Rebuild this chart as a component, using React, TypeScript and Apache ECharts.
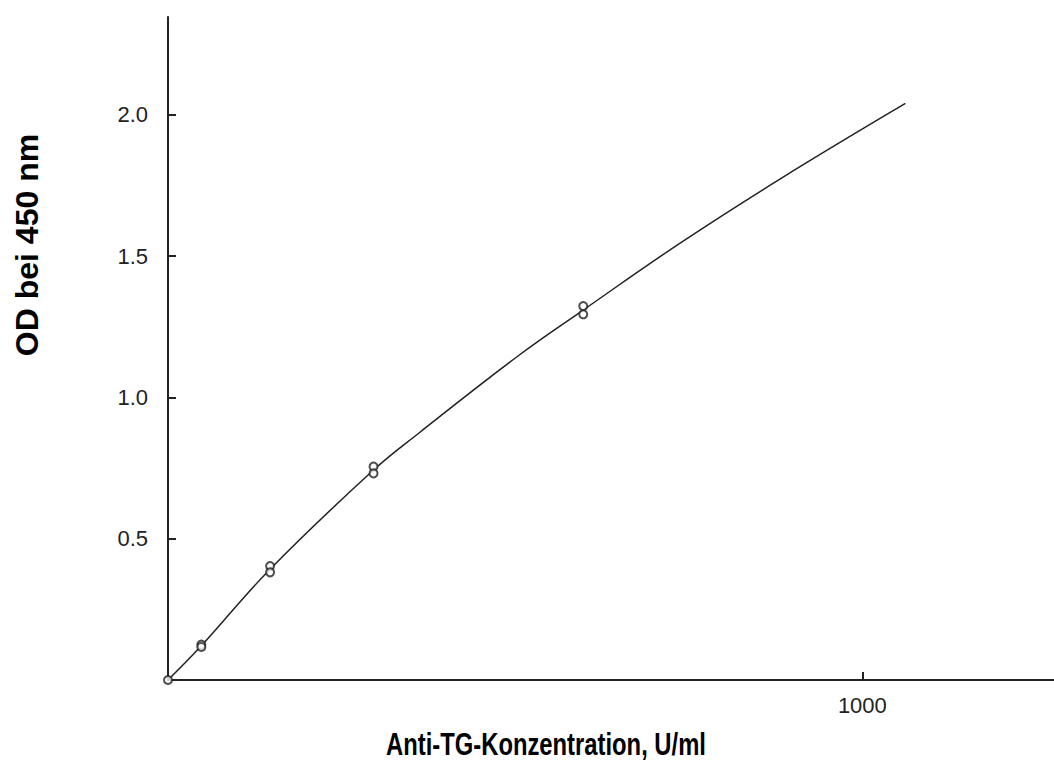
import React, { useEffect, useRef } from "react";
import * as echarts from "echarts";

// Fitted standard curve
const curveX = [0, 48, 147, 296, 362, 506, 598, 737, 883, 1062];
const curveY = [0, 0.121, 0.392, 0.743, 0.875, 1.15, 1.309, 1.545, 1.775, 2.04];
// Measured standards (duplicates)
const pointX = [0, 48, 48, 147, 147, 296, 296, 598, 598];
const pointY = [0, 0.125, 0.117, 0.403, 0.381, 0.755, 0.731, 1.323, 1.294];
// Tick labels
const yTicks = ["0.5", "1.0", "1.5", "2.0"];
const xTicks = ["1000"];

const FONT = '"Liberation Sans", Arial, sans-serif';

export default function App() {
  const ref = useRef<HTMLDivElement>(null);
  useEffect(() => {
    if (!ref.current) return;
    const chart = echarts.init(ref.current, null, { renderer: "svg" });
    chart.setOption({
      animation: false,
      backgroundColor: "#fff",
      grid: { left: 168, top: 17, right: 0, bottom: 80, containLabel: false },
      xAxis: {
        type: "value",
        min: 0,
        max: 1276,
        interval: 1000,
        axisLine: { show: true, lineStyle: { color: "#222", width: 2 } },
        axisTick: { show: true, inside: true, length: 8, lineStyle: { color: "#222", width: 2 } },
        splitLine: { show: false },
        axisLabel: {
          showMaxLabel: false,
          showMinLabel: false,
          margin: 14,
          fontSize: 22,
          color: "#222",
          fontFamily: FONT,
          formatter: (v: number) => (xTicks.includes(String(v)) ? String(v) : ""),
        },
      },
      yAxis: {
        type: "value",
        min: 0,
        max: 2.346,
        interval: 0.5,
        axisLine: { show: true, lineStyle: { color: "#222", width: 2 } },
        axisTick: { show: true, inside: true, length: 8, lineStyle: { color: "#222", width: 2 } },
        splitLine: { show: false },
        axisLabel: {
          showMaxLabel: false,
          showMinLabel: false,
          margin: 20,
          fontSize: 22,
          color: "#222",
          fontFamily: FONT,
          formatter: (v: number) => {
            const s = v.toFixed(1);
            return yTicks.includes(s) ? s : "";
          },
        },
      },
      series: [
        {
          type: "line",
          data: curveX.map((x, i) => [x, curveY[i]]),
          smooth: 0.4,
          showSymbol: false,
          lineStyle: { color: "#222", width: 1.5 },
          z: 2,
        },
        {
          type: "scatter",
          data: pointX.map((x, i) => [x, pointY[i]]),
          symbol: "emptyCircle",
          symbolSize: 8,
          itemStyle: { color: "#222", borderColor: "#222", borderWidth: 1.4 },
          z: 3,
        },
      ],
      graphic: [
        {
          type: "text",
          x: 27,
          y: 245,
          rotation: Math.PI / 2,
          style: {
            text: "OD bei 450 nm",
            font: `bold 32px ${FONT}`,
            fill: "#000",
            align: "center",
            verticalAlign: "middle",
          },
        },
        {
          type: "text",
          x: 546,
          y: 744,
          scaleX: 0.85,
          scaleY: 1.12,
          style: {
            text: "Anti-TG-Konzentration, U/ml",
            font: `bold 28px ${FONT}`,
            fill: "#000",
            align: "center",
            verticalAlign: "middle",
          },
        },
      ],
    });
    return () => chart.dispose();
  }, []);
  return (
    <div
      ref={ref}
      style={{ position: "fixed", left: 0, top: 0, width: 1054, height: 760, background: "#fff" }}
    />
  );
}
